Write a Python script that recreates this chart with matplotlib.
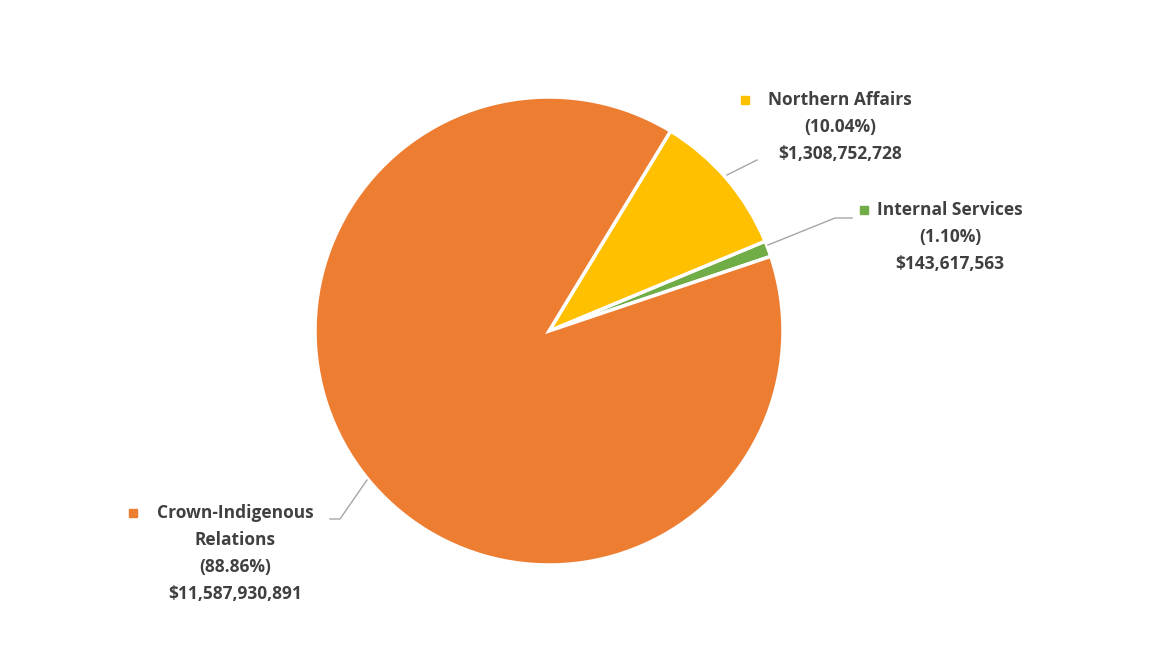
import matplotlib
matplotlib.use("Agg")
import matplotlib.pyplot as plt

categories = ["Internal Services", "Northern Affairs", "Crown-Indigenous\nRelations"]
amounts = [143617563, 1308752728, 11587930891]
percents = ["1.10%", "10.04%", "88.86%"]
colors = ["#70AD47", "#FFC000", "#ED7D31"]

W, H = 1170, 647
fig = plt.figure(figsize=(W / 100, H / 100), dpi=100)
ax = fig.add_axes([0, 0, 1, 1])
ax.set_xlim(0, W)
ax.set_ylim(0, H)
ax.set_aspect("equal")
ax.axis("off")

cx, cy, r = 549, H - 331, 234
ax.pie(amounts, colors=colors, startangle=18.6, counterclock=True,
       center=(cx, cy), radius=r, frame=True,
       wedgeprops=dict(edgecolor="white", linewidth=2.5))
ax.set_xlim(0, W)
ax.set_ylim(0, H)
ax.axis("off")

# label layout: (text center x, first line y, marker x, leader points)
layout = [
    (950, 210, 864, [(768, 245), (835, 218), (852, 218)]),
    (840, 100, 745, [(727, 175), (757, 160)]),
    (235, 513, 133, [(367, 480), (340, 519), (330, 519)]),
]
font = dict(family="Open Sans", weight="bold", size=12.5, color="#404040")
for name, amt, pct, col, (tx, ty, mx, pts) in zip(categories, amounts, percents, colors, layout):
    lines = name.split("\n") + ["(" + pct + ")", "${:,}".format(amt)]
    for i, line in enumerate(lines):
        ax.text(tx, H - (ty + 27 * i), line, ha="center", va="center", **font)
    ax.add_patch(plt.Rectangle((mx - 4, H - ty - 4), 8, 8, color=col))
    ax.plot([p[0] for p in pts], [H - p[1] for p in pts], color="#A6A6A6", lw=1)

fig.savefig("out.png", dpi=100, facecolor="white")
